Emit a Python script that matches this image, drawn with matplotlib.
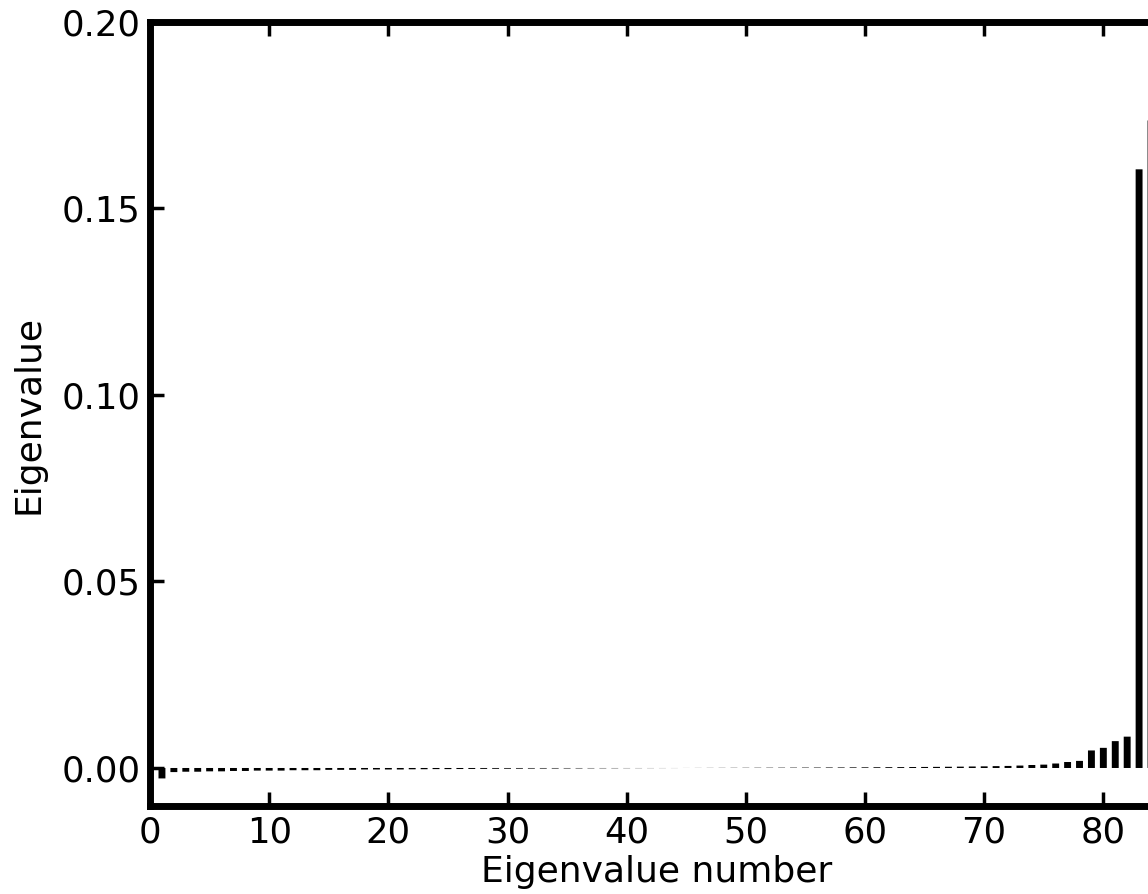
import matplotlib
matplotlib.use("Agg")
import matplotlib.pyplot as plt
import numpy as np

eig_number = list(range(1, 85))
eig_values = [
    -0.0028, -0.0011, -0.0010, -0.0010, -0.0009, -0.0009, -0.0008, -0.0008,
    -0.0007, -0.0007, -0.0007, -0.0006, -0.0006, -0.0006, -0.0005, -0.0005,
    -0.0005, -0.0004, -0.0004, -0.0004, -0.0004, -0.00035, -0.00033, -0.0003,
    -0.0003, -0.00028, -0.00026, -0.00024, -0.00022, -0.0002, -0.00019, -0.00017,
    -0.00016, -0.00015, -0.00013, -0.00012, -0.0001, -0.00009, -0.00008, -0.00006,
    -0.00005, -0.00004, -0.00003, -0.00002, 0.00001, 0.00002, 0.00003, 0.00004,
    0.00005, 0.00006, 0.00007, 0.00008, 0.00009, 0.0001, 0.00011, 0.00012,
    0.00014, 0.00015, 0.00017, 0.00018, 0.0002, 0.00022, 0.00024, 0.00026,
    0.00028, 0.0003, 0.00033, 0.00036, 0.0004, 0.00044, 0.0005, 0.00055,
    0.00065, 0.0008, 0.0009, 0.0012, 0.0016, 0.0019, 0.0047, 0.0054,
    0.0072, 0.0084, 0.1605, 0.1736,
]
x_ticks = [0, 10, 20, 30, 40, 50, 60, 70, 80]
y_ticks = [0.00, 0.05, 0.10, 0.15, 0.20]

fig = plt.figure(figsize=(11.48, 8.94), dpi=100)
ax = fig.add_axes([0.1307, 0.0984, 1.013 - 0.1307, 0.9754 - 0.0984])
bars = ax.bar(eig_number, eig_values, width=0.58, color="black", linewidth=0)
for b in bars:
    b.set_snap(False)
ax.set_xlim(0, 85)
ax.set_ylim(-0.0102, 0.20)
ax.set_xticks(x_ticks)
ax.set_yticks(y_ticks)
ax.set_yticklabels([f"{v:.2f}" for v in y_ticks])
ax.tick_params(direction="in", length=10, width=2.5, labelsize=25.5,
               top=True, right=True, pad=7)
for s in ax.spines.values():
    s.set_linewidth(5)
ax.set_xlabel("Eigenvalue number", fontsize=26, labelpad=4)
ax.set_ylabel("Eigenvalue", fontsize=26, labelpad=11)
fig.savefig("out.png", dpi=100)
